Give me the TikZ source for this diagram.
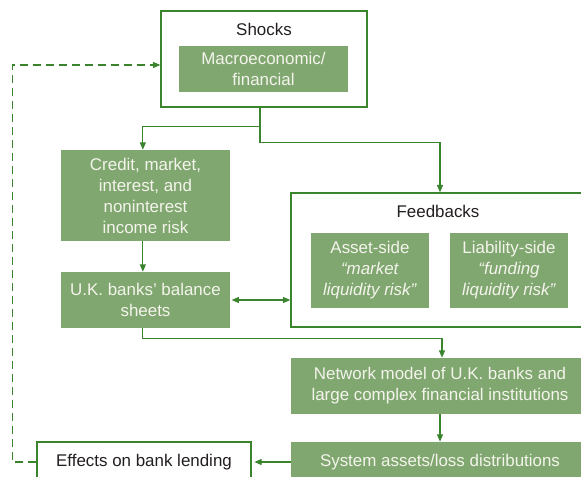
\documentclass[tikz,border=0pt]{standalone}
\usepackage{fontspec}
\setmainfont{Liberation Sans}
\usetikzlibrary{arrows.meta}
\definecolor{boxgreen}{RGB}{128,167,112}
\definecolor{linegreen}{RGB}{58,132,46}
\definecolor{darktext}{RGB}{35,31,32}
\definecolor{lighttext}{RGB}{244,244,236}
\begin{document}
\begin{tikzpicture}[x=0.75pt,y=-0.75pt,
  font=\fontsize{12.7}{15.75}\selectfont,
  >={Triangle[length=5.5pt,width=4.5pt]},
  greenbox/.style={fill=boxgreen,text=lighttext,align=center,inner sep=0pt},
  whitebox/.style={draw=linegreen,line width=1pt,fill=white,text=darktext,align=center,inner sep=0pt},
  link/.style={draw=linegreen,line width=0.9pt,->},
  backlink/.style={link,dash pattern=on 6pt off 3.75pt}]
\useasboundingbox (0,0) rectangle (581,477);
\clip (0,0) rectangle (581,477);
% top: shocks
\node[whitebox,minimum width=154.5pt,minimum height=72pt] (shocks) at (264,59) {};
\node[text=darktext] (shockstitle) at (264,29) {Shocks};
\node[greenbox,minimum width=126.75pt,minimum height=34.5pt] (macro) at (263.5,69) {Macroeconomic/\\financial};
% left column
\node[greenbox,minimum width=126.75pt,minimum height=68.25pt] (credit) at (145.5,195.5) {Credit, market,\\interest, and\\noninterest\\income risk};
\node[greenbox,minimum width=126.75pt,minimum height=42pt] (ukbanks) at (145.5,300) {U.K. banks' balance\\sheets};
% feedbacks
\node[whitebox,minimum width=223.5pt,minimum height=100.5pt] (feedbacks) at (440,260) {};
\node[text=darktext] (fbtitle) at (438,211) {Feedbacks};
\node[greenbox,minimum width=88.5pt,minimum height=56.25pt] (asset) at (370,270.5) {Asset-side\\\textit{“market}\\\textit{liquidity risk”}};
\node[greenbox,minimum width=88.5pt,minimum height=56.25pt] (liability) at (509,270.5) {Liability-side\\\textit{“funding}\\\textit{liquidity risk”}};
% lower right
\node[greenbox,minimum width=223.5pt,minimum height=42pt] (network) at (440,386) {Network model of U.K. banks and\\large complex financial institutions};
\node[greenbox,minimum width=223.5pt,minimum height=30pt] (system) at (440,462) {System assets/loss distributions};
\node[whitebox,minimum width=160.5pt,minimum height=30pt] (effects) at (144,462) {Effects on bank lending};
% connectors
\draw[link] ([xshift=-3pt]shocks.south) -- ++(0,19) -| ([xshift=-2pt]credit.north);
\draw[link] ([xshift=-3pt]shocks.south) -- ++(0,35) -| (feedbacks.north);
\draw[link] ([xshift=-2pt]credit.south) -- ([xshift=-2pt]ukbanks.north);
\draw[link,<->] ([xshift=1pt]ukbanks.east) -- (ukbanks.east -| feedbacks.west);
\draw[link] ([xshift=-2pt]ukbanks.south) -- ++(0,10) -| ([xshift=1.5pt]network.north);
\draw[link] (network) -- (system);
\draw[link] (system.west) -- ([xshift=2pt]effects.east);
\draw[backlink] (effects.west) -- ++(-24,0) |- ([yshift=-4.5pt]shocks.west);
\end{tikzpicture}
\end{document}
